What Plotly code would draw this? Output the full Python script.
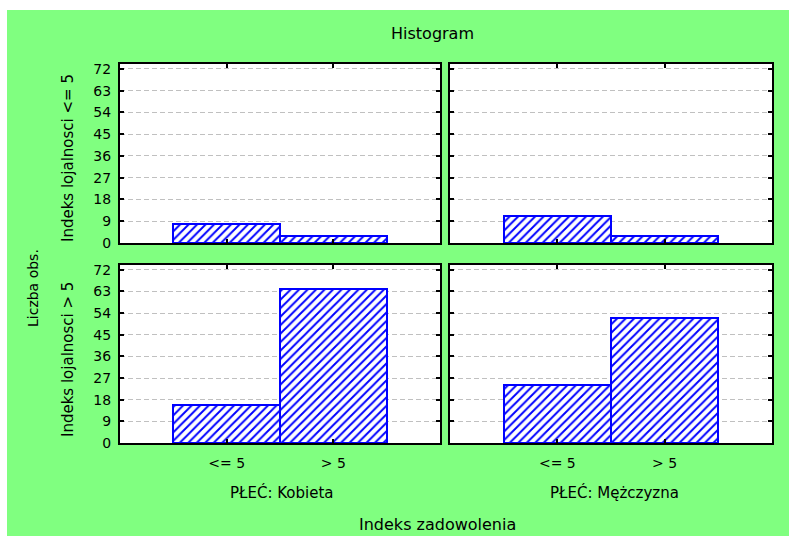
import plotly.graph_objects as go

# ---- data ----
categories = ["<= 5", "> 5"]
cat_pos = [0, 1]
women_loy_low = [8, 3]
men_loy_low = [11, 3]
women_loy_high = [16, 64]
men_loy_high = [24, 52]
y_ticks = [0, 9, 18, 27, 36, 45, 54, 63, 72]

GREEN = "#80FF80"
BLUE = "#0000FF"
FONT = "DejaVu Sans"

W, H = 789, 536
L, R, T, B = 120, 17, 64, 93
PW, PH = W - L - R, H - T - B

def px(x):
    return (x - L) / PW

def py(y):
    return (H - B - y) / PH

fig = go.Figure()

panels = [
    ("x", "y", women_loy_low),
    ("x2", "y2", men_loy_low),
    ("x3", "y3", women_loy_high),
    ("x4", "y4", men_loy_high),
]
for xa, ya, vals in panels:
    fig.add_trace(go.Bar(
        x=cat_pos, y=vals, width=1, xaxis=xa, yaxis=ya,
        marker=dict(color="white", line=dict(color=BLUE, width=2),
                    pattern=dict(shape="/", fgcolor=BLUE, bgcolor="white",
                                 size=6, solidity=0.32, fillmode="replace")),
        showlegend=False, hoverinfo="skip",
    ))

xd_left = [0, px(440)]
xd_right = [px(450), 1]
yd_top = [py(243), 1]
yd_bot = [0, py(265)]

def xaxis(domain, anchor, labels):
    return dict(domain=domain, anchor=anchor, range=[-1, 2], tickvals=cat_pos,
                ticktext=categories, showticklabels=labels, showgrid=False,
                zeroline=False, showline=True, linecolor="black", linewidth=2,
                mirror="allticks", ticks="inside", ticklen=4, tickcolor="black",
                tickwidth=2, ticklabelstandoff=6,
                tickfont=dict(family=FONT, size=14, color="black"))

def yaxis(domain, anchor, labels):
    return dict(domain=domain, anchor=anchor, range=[0, 74], tickvals=y_ticks,
                showticklabels=labels, showgrid=True, gridcolor="#c0c0c0",
                griddash="5px,3px", gridwidth=1, zeroline=False, showline=True,
                linecolor="black", linewidth=2, mirror="allticks", ticks="inside",
                ticklen=4, tickcolor="black", tickwidth=2, ticklabelstandoff=4,
                tickfont=dict(family=FONT, size=14, color="black"))

fig.update_layout(
    width=W, height=H,
    margin=dict(l=L, r=R, t=T, b=B, pad=0),
    paper_bgcolor=GREEN, plot_bgcolor="white",
    bargap=0,
    xaxis=xaxis(xd_left, "y", False),
    yaxis=yaxis(yd_top, "x", True),
    xaxis2=xaxis(xd_right, "y2", False),
    yaxis2=yaxis(yd_top, "x2", False),
    xaxis3=xaxis(xd_left, "y3", True),
    yaxis3=yaxis(yd_bot, "x3", True),
    xaxis4=xaxis(xd_right, "y4", True),
    yaxis4=yaxis(yd_bot, "x4", False),
    font=dict(family=FONT, size=14, color="black"),
)

# white strips at top and left (page border in the reference)
fig.add_shape(type="rect", xref="paper", yref="paper", x0=px(0), x1=px(W),
              y0=py(10), y1=py(0), fillcolor="white", line_width=0, layer="above")
fig.add_shape(type="rect", xref="paper", yref="paper", x0=px(0), x1=px(7),
              y0=py(H), y1=py(0), fillcolor="white", line_width=0, layer="above")

def ann(text, x, y, angle=0, size=15):
    fig.add_annotation(text=text, x=px(x), y=py(y), xref="paper", yref="paper",
                       showarrow=False, textangle=angle, xanchor="center",
                       yanchor="middle", font=dict(family=FONT, size=size, color="black"))

ann("Histogram", 432, 33, size=16)
ann("Liczba obs.", 33, 288, -90, size=14)
ann("Indeks lojalnosci <= 5", 68, 158, -90)
ann("Indeks lojalnosci > 5", 68, 360, -90)
ann("PŁEĆ: Kobieta", 282, 492)
ann("PŁEĆ: Mężczyzna", 614, 492)
ann("Indeks zadowolenia", 437, 524, size=16)

fig.write_html("out.html", config={"displayModeBar": False},
               post_script="document.body.style.margin='0';document.body.style.overflow='hidden';")
